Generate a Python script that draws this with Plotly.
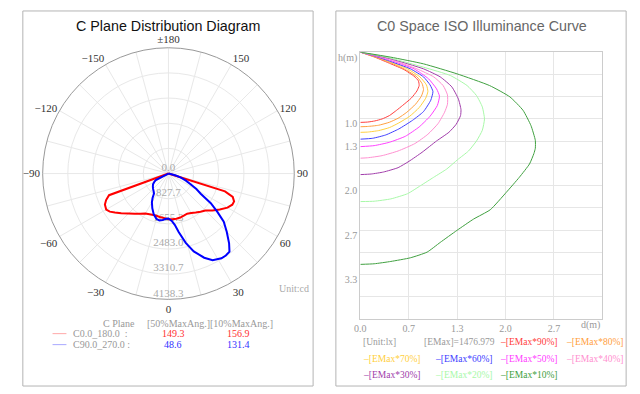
import plotly.graph_objects as go

W, H = 640, 394

def px(x):
    return x / W

def py(y):
    return 1 - y / H

# ---------------- Left: C-plane polar distribution ----------------
c0_theta = [-75, -70, -67, -64, -60, -57, -54, -50, -45, -40, -35, -30, -25, -20, -15, -10, -5, 0,
            5, 10, 15, 20, 25, 30, 35, 40, 45, 50, 55, 60, 64, 67, 70, 72.5, 75]
c0_r = [0, 2080, 2228, 2326, 2365, 2300, 2177, 2030, 1858, 1730, 1610, 1520, 1475, 1450, 1445, 1462, 1472, 1499,
        1508, 1508, 1497, 1475, 1458, 1500, 1565, 1640, 1720, 1890, 2060, 2240, 2336, 2345, 2250, 1950, 0]

c90_theta = [-65, -62.5, -60, -55, -50, -45, -40, -36, -33, -30, -25, -20, -15, -11, -7, -4, 0,
             4, 7, 10, 14, 18, 23, 27, 32, 35, 38, 41, 45, 49, 52, 55, 58, 61, 64, 68, 72, 75, 78, 80]
c90_r = [0, 470, 530, 620, 670, 715, 760, 810, 960, 1090, 1258, 1420, 1541, 1570, 1540, 1500, 1480,
         1560, 1700, 1960, 2350, 2690, 3007, 3200, 3287, 3290, 3260, 3040, 2711, 2410, 2035, 1700, 1250, 1050,
         821, 620, 433, 250, 100, 0]

ring_values = [0.0, 827.7, 1655.3, 2483.0, 3310.7, 4138.3]
ring_labels = ["0.0", "827.7", "1655.3", "2483.0", "3310.7", "4138.3"]
angle_ticks = [0, 30, 60, 90, 120, 150, 180, 210, 240, 270, 300, 330]
angle_labels = ["0", "30", "60", "90", "120", "150", "\u00b1180", "\u2212150", "\u2212120", "\u221290", "\u221260", "\u221230"]

plane_names = ["C0.0_180.0\u00a0\u00a0:", "C90.0_270.0\u00a0:"]
half_max_ang = ["149.3", "48.6"]
tenth_max_ang = ["156.9", "131.4"]

# ---------------- Right: ISO illuminance curves ----------------
iso_labels = ["[EMax*90%]", "[EMax*80%]", "[EMax*70%]", "[EMax*60%]", "[EMax*50%]",
              "[EMax*40%]", "[EMax*30%]", "[EMax*20%]", "[EMax*10%]"]
iso_colors = ["#ff4040", "#ffa040", "#ffd040", "#4040ff", "#ff40ff",
              "#ff90d0", "#a03caa", "#a8f8a8", "#40a040"]

d90 = [0, 0.20, 0.42, 0.60, 0.74, 0.80, 0.81, 0.78, 0.70, 0.58, 0.50, 0.40, 0.30, 0.20, 0.10, 0]
h90 = [0, 0.075, 0.175, 0.26, 0.36, 0.43, 0.50, 0.58, 0.69, 0.80, 0.87, 0.95, 1.00, 1.03, 1.047, 1.052]
d80 = [0, 0.20, 0.42, 0.62, 0.78, 0.85, 0.87, 0.84, 0.76, 0.64, 0.52, 0.40, 0.25, 0.10, 0]
h80 = [0, 0.07, 0.16, 0.26, 0.37, 0.47, 0.56, 0.66, 0.78, 0.90, 0.99, 1.05, 1.095, 1.113, 1.117]
d70 = [0, 0.20, 0.42, 0.65, 0.82, 0.91, 0.93, 0.90, 0.81, 0.68, 0.53, 0.40, 0.25, 0.10, 0]
h70 = [0, 0.065, 0.15, 0.25, 0.37, 0.49, 0.59, 0.69, 0.83, 0.96, 1.06, 1.13, 1.175, 1.197, 1.201]
d60 = [0, 0.20, 0.42, 0.69, 0.87, 0.96, 1.00, 0.97, 0.87, 0.72, 0.53, 0.35, 0.17, 0]
h60 = [0, 0.06, 0.14, 0.25, 0.37, 0.49, 0.59, 0.72, 0.89, 1.02, 1.15, 1.24, 1.29, 1.303]
d50 = [0, 0.20, 0.42, 0.74, 0.94, 1.05, 1.09, 1.06, 0.96, 0.81, 0.62, 0.40, 0.19, 0]
h50 = [0, 0.055, 0.125, 0.25, 0.40, 0.55, 0.66, 0.80, 0.96, 1.12, 1.26, 1.35, 1.40, 1.415]
d40 = [0, 0.20, 0.42, 0.78, 1.01, 1.14, 1.20, 1.20, 1.16, 1.07, 0.93, 0.75, 0.52, 0.30, 0.10, 0]
h40 = [0, 0.05, 0.11, 0.25, 0.37, 0.50, 0.64, 0.78, 0.90, 1.07, 1.23, 1.37, 1.48, 1.55, 1.582, 1.588]
d30 = [0, 0.20, 0.42, 0.87, 1.10, 1.26, 1.35, 1.386, 1.38, 1.32, 1.22, 1.05, 0.85, 0.67, 0.52, 0.32, 0.15, 0]
h30 = [0, 0.045, 0.10, 0.25, 0.37, 0.52, 0.70, 0.86, 0.95, 1.08, 1.20, 1.33, 1.50, 1.635, 1.73, 1.795, 1.825, 1.834]
d20 = [0, 0.20, 0.42, 0.87, 1.24, 1.47, 1.60, 1.68, 1.71, 1.68, 1.60, 1.49, 1.34, 1.19, 1.01, 0.83, 0.65, 0.42, 0.19, 0]
h20 = [0, 0.04, 0.09, 0.225, 0.35, 0.50, 0.65, 0.82, 1.00, 1.17, 1.33, 1.48, 1.61, 1.75, 1.874, 1.999, 2.12, 2.198, 2.233, 2.238]
d10 = [0, 0.42, 0.87, 1.33, 1.78, 2.06, 2.24, 2.35, 2.41, 2.41, 2.39, 2.33, 2.19, 2.01, 1.79, 1.56, 1.33, 1.10, 0.92, 0.69, 0.42, 0.19, 0]
h10 = [0, 0.075, 0.175, 0.324, 0.50, 0.67, 0.87, 1.10, 1.32, 1.44, 1.52, 1.675, 1.874, 2.10, 2.36, 2.50, 2.67, 2.85, 2.995, 3.08, 3.135, 3.17, 3.179]

iso_d = [d90, d80, d70, d60, d50, d40, d30, d20, d10]
iso_h = [h90, h80, h70, h60, h50, h40, h30, h20, h10]

x_tickvals = [0, 2 / 3, 4 / 3, 2.0, 8 / 3]
x_ticktext = ["0.0", "0.7", "1.3", "2.0", "2.7"]
y_tickvals = [0, 1 / 3, 2 / 3, 1.0, 4 / 3, 5 / 3, 2.0, 7 / 3, 8 / 3, 3.0, 10 / 3, 11 / 3, 4.0]
y_ticktext = ["h(m)", "", "", "1.0", "1.3", "", "2.0", "", "2.7", "", "3.3", "", ""]
emax_value = "1476.979"

SERIF = "Liberation Serif"
SANS = "Liberation Sans"

fig = go.Figure()

# radial value labels (drawn first so curves lie over them)
fig.add_trace(go.Scatterpolar(
    r=ring_values, theta=[0] * len(ring_values), mode="text", text=ring_labels,
    textposition="top center", textfont=dict(family=SERIF, size=11, color="#aaaaaa"),
    hoverinfo="skip", showlegend=False))

fig.add_trace(go.Scatterpolar(r=c0_r, theta=c0_theta, mode="lines",
                              line=dict(color="#ff0000", width=2), showlegend=False))
fig.add_trace(go.Scatterpolar(r=c90_r, theta=c90_theta, mode="lines",
                              line=dict(color="#0000ff", width=2), showlegend=False))

for d, h, c in zip(iso_d, iso_h, iso_colors):
    fig.add_trace(go.Scatter(x=d, y=h, mode="lines", line=dict(color=c, width=1, shape="spline", smoothing=0.5),
                             xaxis="x", yaxis="y", showlegend=False))

grid_ticks = list(range(0, 360, 15))
grid_text = [angle_labels[angle_ticks.index(a)] if a in angle_ticks else "" for a in grid_ticks]

fig.update_layout(
    width=W, height=H, margin=dict(l=0, r=0, t=0, b=0),
    paper_bgcolor="white", plot_bgcolor="white", showlegend=False,
    font=dict(family=SERIF, size=11, color="#999999"),
    polar=dict(
        domain=dict(x=[px(37), px(291)], y=[py(300), py(46)]),
        bgcolor="white",
        angularaxis=dict(rotation=270, direction="counterclockwise", tickmode="array",
                         tickvals=grid_ticks, ticktext=grid_text, ticks="",
                         showline=True, linecolor="#999999", linewidth=1,
                         gridcolor="#e8e8e8", gridwidth=1,
                         tickfont=dict(family=SERIF, size=11, color="#333333")),
        radialaxis=dict(range=[0, ring_values[-1]], tickmode="array", tickvals=ring_values[1:],
                        showticklabels=False, showline=False, ticks="",
                        gridcolor="#e8e8e8", gridwidth=1),
    ),
    xaxis=dict(domain=[px(357.7), px(602)], range=[0, 10 / 3], tickmode="array",
               tickvals=x_tickvals, ticktext=x_ticktext, showgrid=True, gridcolor="#e6e6e6",
               showline=True, linecolor="#cccccc", mirror=True, zeroline=False, ticks="",
               tickfont=dict(family=SERIF, size=10, color="#999999"), fixedrange=True),
    yaxis=dict(domain=[py(319), py(51.3)], range=[4, 0], tickmode="array",
               tickvals=y_tickvals, ticktext=y_ticktext, showgrid=True, gridcolor="#e6e6e6",
               showline=True, linecolor="#cccccc", mirror=True, zeroline=False, ticks="",
               ticklabelshift=-5,
               tickfont=dict(family=SERIF, size=10, color="#999999"), fixedrange=True),
)

shapes = [
    dict(type="rect", xref="paper", yref="paper", x0=px(17), x1=px(310), y0=py(386), y1=py(10),
         line=dict(color="#b4b4b4", width=1)),
    dict(type="rect", xref="paper", yref="paper", x0=px(333), x1=px(626), y0=py(386), y1=py(10),
         line=dict(color="#b4b4b4", width=1)),
    dict(type="line", xref="paper", yref="paper", x0=px(47), x1=px(61), y0=py(333.5), y1=py(333.5),
         line=dict(color="#ffa8a8", width=1)),
    dict(type="line", xref="paper", yref="paper", x0=px(47), x1=px(61), y0=py(344.5), y1=py(344.5),
         line=dict(color="#a8a8ff", width=1)),
]
fig.update_layout(shapes=shapes)

ann = []

def text(x, y, s, color="#999999", size=10, anchor="left", family=SERIF):
    ann.append(dict(x=px(x), y=py(y), xref="paper", yref="paper", text=s, showarrow=False,
                    xanchor=anchor, yanchor="middle", font=dict(family=family, size=size, color=color)))

text(164, 25.5, "C Plane Distribution Diagram", color="#111111", size=14.3, anchor="center", family=SANS)
text(480, 25.5, "C0 Space ISO Illuminance Curve", color="#666666", size=14.3, anchor="center", family=SANS)
text(308, 288, "Unit:cd", color="#aaaaaa", size=10, anchor="right")

# left table
text(96, 323, "C Plane")
text(140, 323, "[50%MaxAng.][10%MaxAng.]")
row_y = [333.5, 344.5]
val_colors = ["#ff3030", "#3030ff"]
for i in range(2):
    text(66, row_y[i], plane_names[i])
    text(169, row_y[i], half_max_ang[i], color=val_colors[i], anchor="center")
    text(235, row_y[i], tenth_max_ang[i], color=val_colors[i], anchor="center")

# right legend
text(358, 342.3, "[Unit:lx]", size=9.5)
text(420, 342.3, "[EMax]=" + emax_value, size=9.5)
slots = [(497, 342.3), (563, 342.3), (358, 359), (431, 359), (497, 359), (563, 359),
         (358, 374.5), (431, 374.5), (497, 374.5)]
for (x, y), lab, c in zip(slots, iso_labels, iso_colors):
    text(x, y, "\u2013" + lab, color=c, size=9.5)

text(602, 324.5, "d(m)", anchor="right")
fig.update_layout(annotations=ann)

fig.write_html("out.html", config={"displayModeBar": False},
               post_script="document.body.style.margin='0';document.body.style.padding='0';")
